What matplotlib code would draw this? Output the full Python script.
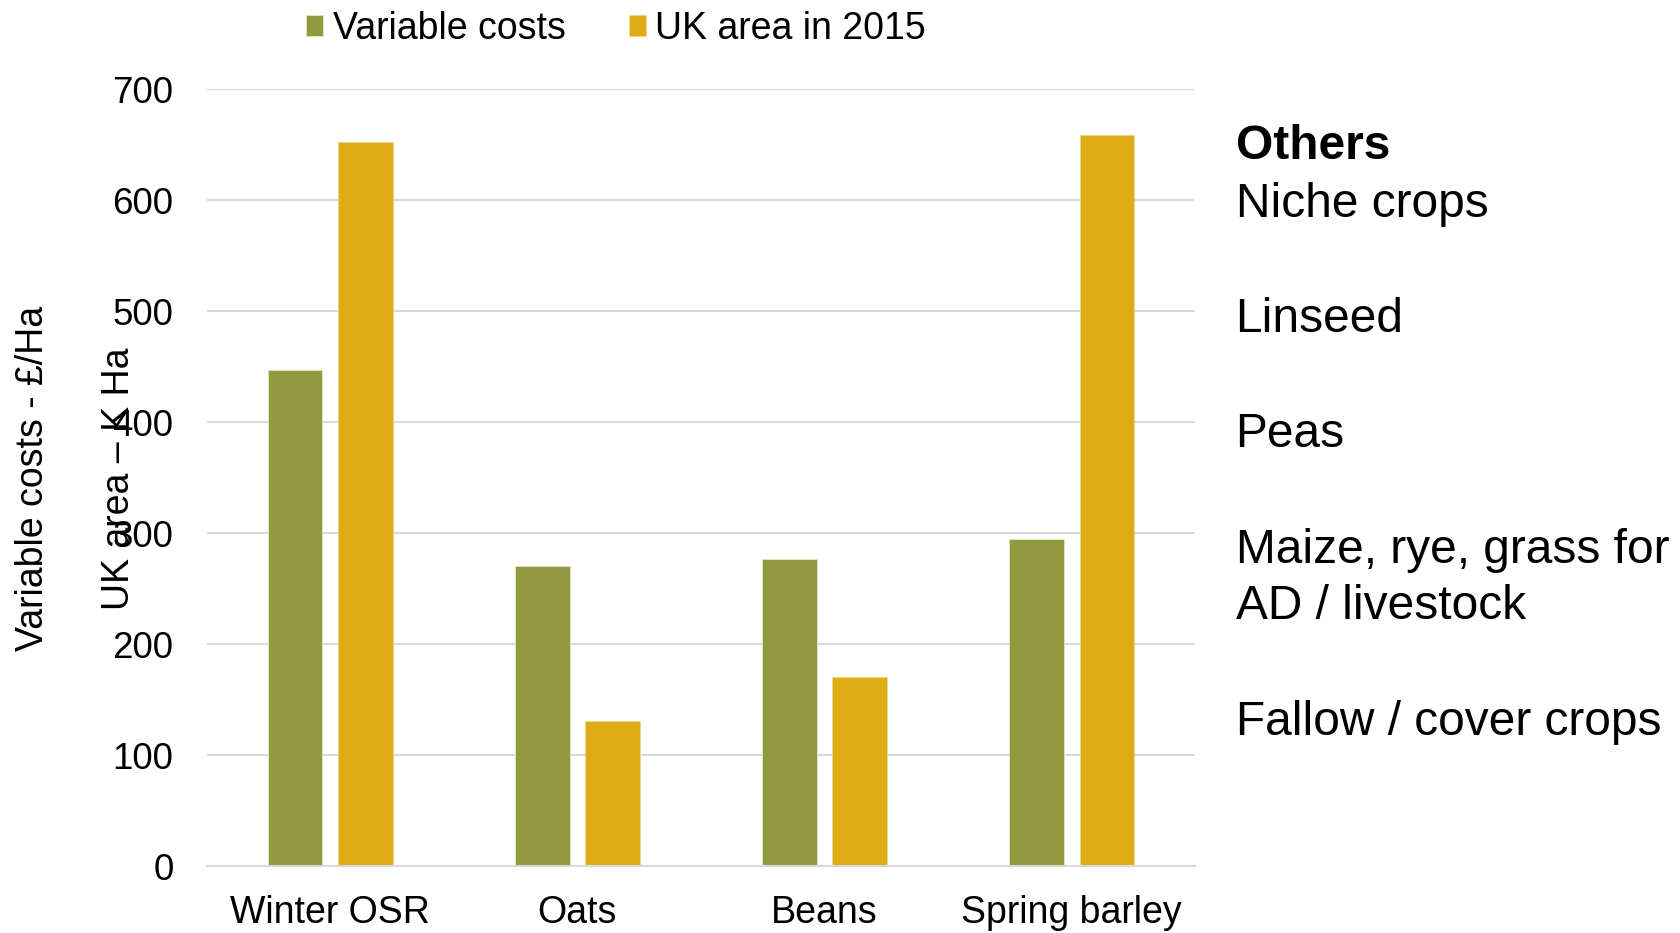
import matplotlib
matplotlib.use("Agg")
import matplotlib.pyplot as plt
import numpy as np

plt.rcParams["font.family"] = ["Liberation Sans", "DejaVu Sans"]

# -----------------------------
# Data
# -----------------------------
crops = ["Winter OSR", "Oats", "Beans", "Spring barley"]
variable_costs = [447, 270, 277, 295]
uk_area_2015 = [652, 131, 170, 659]
y_ticks = [0, 100, 200, 300, 400, 500, 600, 700]
others = ["Niche crops", "Linseed", "Peas", "Maize, rye, grass for\nAD / livestock", "Fallow / cover crops"]

green = "#929A40"
yellow = "#DEAC14"
grid_color = "#D9D9D9"

# -----------------------------
# Figure
# -----------------------------
fig = plt.figure(figsize=(16.81, 9.33), dpi=100)
ax = fig.add_axes([0.123, 0.0718, 0.588, 0.8328])

x = np.arange(len(crops))
bw = 0.222
off = 0.143
ax.bar(x - off, variable_costs, bw, color=green, edgecolor="#E8E4C0", linewidth=0.6, label="Variable costs")
ax.bar(x + off, uk_area_2015, bw, color=yellow, edgecolor="#F0D88A", linewidth=0.6, label="UK area in 2015")

ax.set_xlim(-0.5, len(crops) - 0.5)
ax.set_ylim(0, 700)
ax.set_yticks(y_ticks)
ax.set_xticks(x)
ax.set_xticklabels(crops)
ax.tick_params(axis="y", length=0, labelsize=26.5, pad=24)
ax.tick_params(axis="x", length=0, labelsize=27, pad=21)

ax.yaxis.grid(True, color=grid_color, lw=1.5)
ax.set_axisbelow(True)
for s in ["top", "right", "left"]:
    ax.spines[s].set_visible(False)
ax.spines["bottom"].set_color(grid_color)
ax.spines["bottom"].set_linewidth(1.5)

# axis titles (the second one sits over the tick labels, as in the original)
fig.text(0.0195, 0.487, "Variable costs - £/Ha", rotation=90, ha="center", va="center", fontsize=27)
fig.text(0.0705, 0.487, "UK area – K Ha", rotation=90, ha="center", va="center", fontsize=27)

# legend
fig.legend(
    loc="center",
    bbox_to_anchor=(0.3665, 0.969),
    ncol=2,
    frameon=False,
    fontsize=27,
    handlelength=0.45,
    handleheight=0.45,
    handletextpad=0.26,
    columnspacing=1.68,
)

# -----------------------------
# Others list on the right
# -----------------------------
fig.text(0.735, 0.8435, "Others", fontsize=34.5, fontweight="bold", va="center", ha="left")
others_y = [0.7805, 0.6575, 0.5345, 0.380, 0.2255]
for label, yy in zip(others, others_y):
    fig.text(0.735, yy, label, fontsize=34.5, va="center", ha="left", linespacing=1.33)

fig.savefig("out.png", dpi=100)
